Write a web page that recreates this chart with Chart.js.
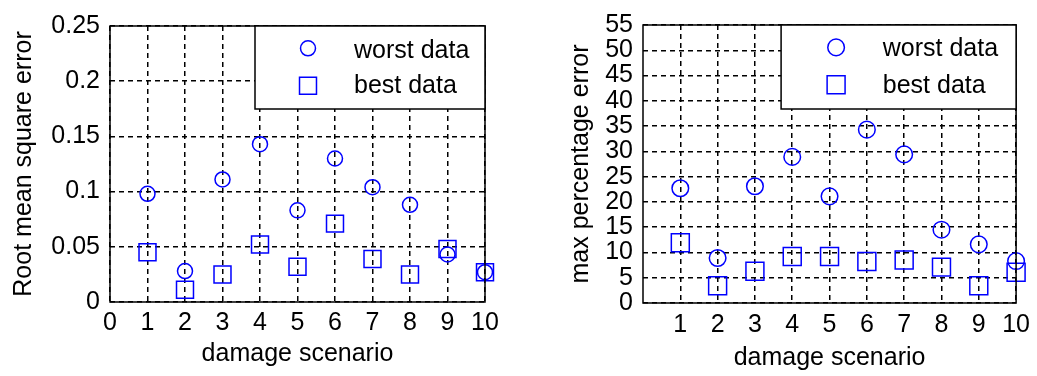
<!DOCTYPE html>
<html>
<head>
<meta charset="utf-8">
<script src="https://cdn.jsdelivr.net/npm/chart.js@4/dist/chart.umd.min.js"></script>
<style>
  html, body { margin: 0; padding: 0; background: #fff; }
  #wrap { position: relative; width: 1037px; height: 376px; overflow: hidden; background: #fff; }
  canvas { position: absolute; top: 0; }
  #rmse { left: 0; }
  #mpe { left: 520px; }
</style>
</head>
<body>
<div id="wrap">
  <canvas id="rmse" width="520" height="376"></canvas>
  <canvas id="mpe" width="517" height="376"></canvas>
</div>
<script>
// Damage scenarios on the horizontal axis of both panels
const scenarios = [1, 2, 3, 4, 5, 6, 7, 8, 9, 10];
const seriesNames = ['worst data', 'best data'];

// Root mean square error per scenario
const rmseWorst = [0.098, 0.028, 0.111, 0.143, 0.083, 0.130, 0.104, 0.088, 0.043, 0.027];
const rmseBest  = [0.045, 0.011, 0.025, 0.052, 0.032, 0.071, 0.039, 0.025, 0.048, 0.027];

// Max percentage error per scenario
const mpeWorst = [22.7, 8.9, 23.1, 28.9, 21.1, 34.3, 29.4, 14.5, 11.6, 8.3];
const mpeBest  = [11.9, 3.4, 6.3, 9.2, 9.2, 8.2, 8.5, 7.1, 3.4, 6.1];

// Tick positions and their labels
const rmseXTicks  = [0, 1, 2, 3, 4, 5, 6, 7, 8, 9, 10];
const rmseXLabels = ['0', '1', '2', '3', '4', '5', '6', '7', '8', '9', '10'];
const rmseYTicks  = [0, 0.05, 0.1, 0.15, 0.2, 0.25];
const rmseYLabels = ['0', '0.05', '0.1', '0.15', '0.2', '0.25'];
const mpeXTicks   = [1, 2, 3, 4, 5, 6, 7, 8, 9, 10];
const mpeXLabels  = ['1', '2', '3', '4', '5', '6', '7', '8', '9', '10'];
const mpeYTicks   = [0, 5, 10, 15, 20, 25, 30, 35, 40, 45, 50, 55];
const mpeYLabels  = ['0', '5', '10', '15', '20', '25', '30', '35', '40', '45', '50', '55'];

const BLUE = '#0000ff';
const FONT = { family: "'Liberation Sans', Arial, Helvetica, sans-serif", size: 25 };

function toPoints(values) {
  return scenarios.map((s, i) => ({ x: s, y: values[i] }));
}

// Solid box around the plotting area
const frameBox = {
  id: 'frameBox',
  afterDatasetsDraw(chart) {
    const { ctx, chartArea: a } = chart;
    ctx.save();
    ctx.strokeStyle = '#000';
    ctx.lineWidth = 1.5;
    ctx.strokeRect(a.left, a.top, a.right - a.left, a.bottom - a.top);
    ctx.restore();
  }
};

function drawMarker(ctx, ds, x, y) {
  ctx.save();
  ctx.strokeStyle = ds.borderColor;
  ctx.lineWidth = ds.borderWidth;
  ctx.beginPath();
  if (ds.pointStyle === 'rect') {
    const h = ds.pointRadius * Math.SQRT1_2;
    ctx.rect(x - h, y - h, 2 * h, 2 * h);
  } else {
    ctx.arc(x, y, ds.pointRadius, 0, Math.PI * 2);
  }
  ctx.stroke();
  ctx.restore();
}

// Boxed legend in the upper right corner of the axes
const boxLegend = {
  id: 'boxLegend',
  afterDraw(chart, args, o) {
    const { ctx, chartArea: a } = chart;
    const x0 = a.right - o.width;
    const y0 = a.top;
    ctx.save();
    ctx.fillStyle = '#fff';
    ctx.fillRect(x0, y0, o.width, o.height);
    ctx.strokeStyle = '#000';
    ctx.lineWidth = 1.5;
    ctx.strokeRect(x0, y0, o.width, o.height);
    ctx.font = `${FONT.size}px ${FONT.family}`;
    ctx.fillStyle = '#000';
    ctx.textAlign = 'left';
    ctx.textBaseline = 'middle';
    chart.data.datasets.forEach((ds, i) => {
      drawMarker(ctx, ds, x0 + o.markerX, y0 + o.markerY[i]);
      ctx.fillText(ds.label, x0 + o.textX, y0 + o.textY[i]);
    });
    ctx.restore();
  }
};

function makeChart(id, cfg) {
  const datasets = [
    {
      label: seriesNames[0], data: toPoints(cfg.worst),
      pointStyle: 'circle', pointRadius: cfg.circleR, borderWidth: 1.5,
      borderColor: BLUE, backgroundColor: 'rgba(0,0,0,0)', showLine: false, clip: false
    },
    {
      label: seriesNames[1], data: toPoints(cfg.best),
      pointStyle: 'rect', pointRadius: cfg.rectR, borderWidth: 1.5,
      borderColor: BLUE, backgroundColor: 'rgba(0,0,0,0)', showLine: false, clip: false
    }
  ];
  return new Chart(document.getElementById(id), {
    type: 'scatter',
    data: { datasets },
    plugins: [frameBox, boxLegend],
    options: {
      responsive: false,
      animation: false,
      events: [],
      layout: { padding: { left: 0, right: cfg.padRight, top: cfg.padTop, bottom: 0 } },
      plugins: {
        legend: { display: false },
        tooltip: { enabled: false },
        boxLegend: cfg.legend
      },
      scales: {
        x: {
          type: 'linear', min: 0, max: 10,
          afterBuildTicks: s => { s.ticks = cfg.xTicks.map(v => ({ value: v })); },
          afterFit: s => { s.height = cfg.xHeight; },
          grid: { color: '#000', lineWidth: 1.5, drawTicks: false },
          border: { display: false, dash: [5, 4] },
          ticks: {
            color: '#000', font: FONT, padding: cfg.xTickPad, maxRotation: 0, autoSkip: false,
            callback: v => cfg.xLabels[cfg.xTicks.indexOf(v)]
          },
          title: {
            display: true, text: 'damage scenario', color: '#000', font: FONT,
            padding: { top: 0, bottom: cfg.xTitlePad }
          }
        },
        y: {
          type: 'linear', min: cfg.yTicks[0], max: cfg.yTicks[cfg.yTicks.length - 1],
          afterBuildTicks: s => { s.ticks = cfg.yTicks.map(v => ({ value: v })); },
          afterFit: s => { s.width = cfg.yWidth; },
          grid: { color: '#000', lineWidth: 1.5, drawTicks: false },
          border: { display: false, dash: [5, 4] },
          ticks: {
            color: '#000', font: FONT, padding: 10, autoSkip: false,
            callback: v => cfg.yLabels[cfg.yTicks.indexOf(v)]
          },
          title: {
            display: true, text: cfg.yTitle, color: '#000', font: FONT,
            padding: { top: cfg.yTitlePad, bottom: 0 }
          }
        }
      }
    }
  });
}

makeChart('rmse', {
  worst: rmseWorst, best: rmseBest,
  xTicks: rmseXTicks, xLabels: rmseXLabels,
  yTicks: rmseYTicks, yLabels: rmseYLabels,
  yTitle: 'Root mean square error',
  padRight: 35, padTop: 26, xHeight: 74, yWidth: 110,
  xTickPad: 6, xTitlePad: 7, yTitlePad: 9,
  circleR: 7.5, rectR: 12,
  legend: { width: 230, height: 83, markerX: 53, textX: 99, markerY: [22.3, 59.7], textY: [25.3, 60.3] }
});

makeChart('mpe', {
  worst: mpeWorst, best: mpeBest,
  xTicks: mpeXTicks, xLabels: mpeXLabels,
  yTicks: mpeYTicks, yLabels: mpeYLabels,
  yTitle: 'max percentage error',
  padRight: 15, padTop: 19, xHeight: 73, yWidth: 123,
  xTickPad: 7, xTitlePad: 3, yTitlePad: 46,
  circleR: 8.3, rectR: 12.7,
  legend: { width: 235, height: 84, markerX: 55, textX: 101.7, markerY: [22.4, 59.7], textY: [23.7, 61.3] }
});
</script>
</body>
</html>
